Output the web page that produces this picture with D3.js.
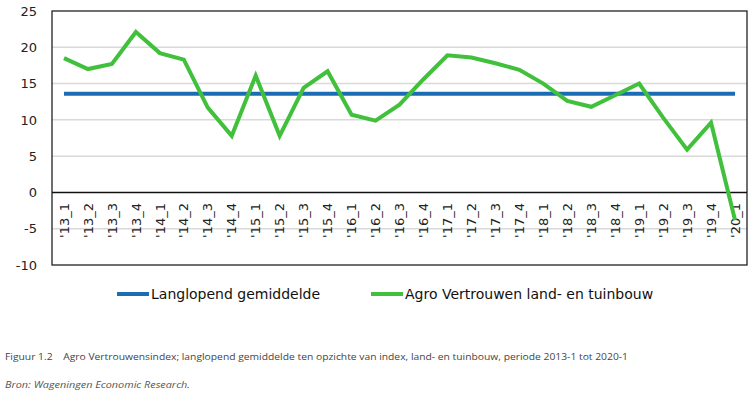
<!DOCTYPE html>
<html>
<head>
<meta charset="utf-8">
<script src="https://cdnjs.cloudflare.com/ajax/libs/d3/7.8.5/d3.min.js"></script>
<style>
  body { margin: 0; background: #fff; }
  svg { display: block; font-family: "DejaVu Sans", Verdana, sans-serif; }
</style>
</head>
<body>
<svg id="chart" width="750" height="396"></svg>
<script>
// kwartalen
var quarters = ["'13_1","'13_2","'13_3","'13_4","'14_1","'14_2","'14_3","'14_4",
  "'15_1","'15_2","'15_3","'15_4","'16_1","'16_2","'16_3","'16_4",
  "'17_1","'17_2","'17_3","'17_4","'18_1","'18_2","'18_3","'18_4",
  "'19_1","'19_2","'19_3","'19_4","'20_1"];
var agroIndex = [18.5, 17.0, 17.7, 22.1, 19.2, 18.3, 11.7, 7.8,
  16.1, 7.8, 14.4, 16.7, 10.7, 9.9, 12.1, 15.6,
  18.9, 18.6, 17.8, 16.9, 15.0, 12.6, 11.8, 13.4,
  15.0, 10.3, 5.9, 9.6, -3.8];
var gemiddelde = 13.6;
var yTicks = [25, 20, 15, 10, 5, 0, -5, -10];
var seriesNames = ["Langlopend gemiddelde", "Agro Vertrouwen land- en tuinbouw"];
var colors = ["#1c6cb3", "#41c03c"];

init();
function init(){
  var svg = d3.select("#chart");
  var left = 52, right = 747, top = 11, bottom = 265;

  var x = d3.scalePoint().domain(quarters).range([left, right]).padding(0.5);
  var y = d3.scaleLinear().domain([-10, 25]).range([bottom, top]);

  // gridlijnen
  svg.append("g").selectAll("line")
    .data(yTicks.filter(function(d){ return d != 0 && d != 25 && d != -10; }))
    .enter().append("line")
    .attr("x1", left).attr("x2", right)
    .attr("y1", function(d){ return y(d); }).attr("y2", function(d){ return y(d); })
    .attr("stroke", "#d9d9d9").attr("stroke-width", 1.5);

  // kader
  svg.append("rect")
    .attr("x", left).attr("y", top)
    .attr("width", right - left).attr("height", bottom - top)
    .attr("fill", "none").attr("stroke", "#222").attr("stroke-width", 1.3);
  svg.append("line")
    .attr("x1", left).attr("x2", right)
    .attr("y1", y(0)).attr("y2", y(0))
    .attr("stroke", "#111").attr("stroke-width", 1.5);

  // y-as labels
  svg.append("g").selectAll("text")
    .data(yTicks).enter().append("text")
    .attr("x", 37).attr("y", function(d){ return y(d); })
    .attr("dy", "0.36em")
    .attr("text-anchor", "end")
    .attr("fill", "#222")
    .style("font-size", "13px")
    .text(function(d){ return d; });

  // x-as labels (gedraaid)
  svg.append("g").selectAll("text")
    .data(quarters).enter().append("text")
    .attr("transform", function(d){ return "translate(" + x(d) + ",203) rotate(-90)"; })
    .attr("dy", "0.36em")
    .attr("text-anchor", "end")
    .attr("fill", "#222")
    .style("font-size", "13px")
    .text(function(d){ return d; });

  // gemiddelde
  svg.append("line")
    .attr("x1", x(quarters[0])).attr("x2", x(quarters[quarters.length - 1]))
    .attr("y1", y(gemiddelde)).attr("y2", y(gemiddelde))
    .attr("stroke", colors[0]).attr("stroke-width", 4);

  // index
  var line = d3.line()
    .x(function(d, i){ return x(quarters[i]); })
    .y(function(d){ return y(d); });
  svg.append("path")
    .datum(agroIndex)
    .attr("d", line)
    .attr("fill", "none")
    .attr("stroke", colors[1])
    .attr("stroke-width", 4)
    .attr("stroke-linejoin", "miter");

  // legenda
  var legendX = [117, 371];
  var lg = svg.append("g").selectAll("g")
    .data(seriesNames).enter().append("g")
    .attr("transform", function(d, i){ return "translate(" + legendX[i] + ",294)"; });
  lg.append("line")
    .attr("x1", 0).attr("x2", 32)
    .attr("stroke", function(d, i){ return colors[i]; })
    .attr("stroke-width", 4);
  lg.append("text")
    .attr("x", 34).attr("dy", "0.35em")
    .attr("fill", "#111")
    .style("font-size", "14px")
    .text(function(d){ return d; });

  // bijschrift
  svg.append("text")
    .attr("x", 5).attr("y", 360)
    .attr("fill", "#444")
    .attr("textLength", 623).attr("lengthAdjust", "spacingAndGlyphs")
    .style("font-family", "'Open Sans', sans-serif")
    .style("font-size", "9px")
    .text("Figuur 1.2\u00a0\u00a0\u00a0\u00a0Agro Vertrouwensindex; langlopend gemiddelde ten opzichte van index, land- en tuinbouw, periode 2013-1 tot 2020-1");
  svg.append("text")
    .attr("x", 5).attr("y", 388)
    .attr("fill", "#555")
    .attr("textLength", 185).attr("lengthAdjust", "spacingAndGlyphs")
    .style("font-family", "'Open Sans', sans-serif")
    .style("font-style", "italic")
    .style("font-size", "9px")
    .text("Bron: Wageningen Economic Research.");
}
</script>
</body>
</html>
